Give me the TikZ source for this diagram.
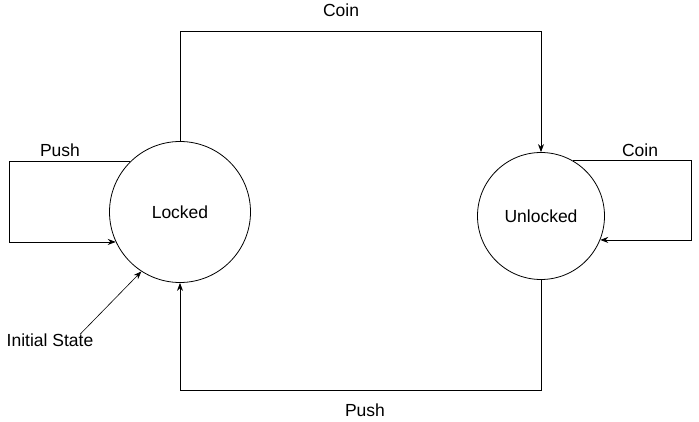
\documentclass[tikz,border=0pt]{standalone}
\usepackage{fontspec}
\setmainfont{Liberation Sans}
\usetikzlibrary{arrows.meta,positioning}

\begin{document}
\begin{tikzpicture}[
  x=1pt, y=-1pt,
  every node/.style={font=\fontsize{17.5}{21}\selectfont},
  state/.style={draw, circle, inner sep=0pt, line width=0.8pt},
  lbl/.style={inner sep=1pt},
  arrow/.style={-{Stealth[length=8pt,width=6pt]}, line width=0.8pt},
  link/.style={line width=0.8pt}
]
\useasboundingbox (0,0) rectangle (699,422);

% states
\node[state, minimum size=141pt] (locked) at (180,212) {Locked};
\node[state, minimum size=127pt] (unlocked) at (541,216) {Unlocked};

% labels
\node[lbl] (coinTop) at (341,10) {Coin};
\node[lbl] (pushBot) at (365,410) {Push};
\node[lbl] (pushSelf) at (60,150) {Push};
\node[lbl] (coinSelf) at (640,150) {Coin};
\node[lbl] (init) at (50,340) {Initial State};

% transitions
\draw[arrow] (locked.north) -- ++(0,-110) -| (unlocked.north);
\draw[arrow] (unlocked.south) -- ++(0,110) -| (locked.south);
\draw[arrow] (locked.135) -- ++(-120,0) |- (locked.205);
\draw[arrow] (unlocked.60) -- ++(118,0) |- (unlocked.338);
\draw[arrow, line width=0.6pt] ([xshift=30pt,yshift=-2pt]init.north) -- (locked.237);
\end{tikzpicture}
\end{document}
